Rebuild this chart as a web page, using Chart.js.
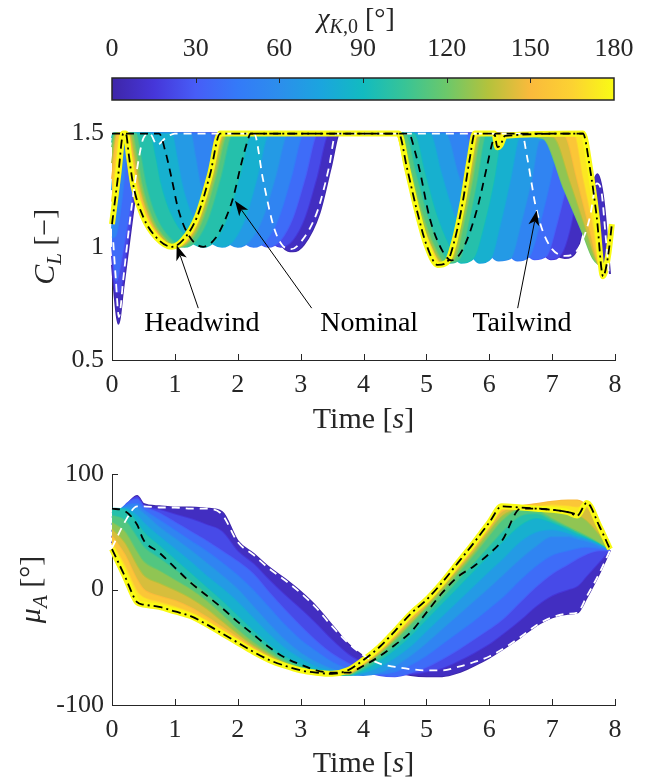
<!DOCTYPE html>
<html><head><meta charset="utf-8">
<script src="https://cdn.jsdelivr.net/npm/chart.js@4.4.1/dist/chart.umd.min.js"></script>
<style>
html,body{margin:0;padding:0;background:#fff;}
#wrap{position:relative;width:655px;height:782px;overflow:hidden;background:#fff;}
canvas{position:absolute;left:0;}
</style></head><body>
<div id="wrap">
<canvas id="cb" width="655" height="110" style="top:0;width:655px;height:110px"></canvas>
<canvas id="top" width="655" height="330" style="top:110px;width:655px;height:330px"></canvas>
<canvas id="bot" width="655" height="332" style="top:450px;width:655px;height:332px"></canvas>
</div>
<script>
// ---------------- data ----------------
const CHI_VALUES = [180, 165, 150, 135, 120, 105, 90, 75, 60, 45, 30, 15, 0];
const CB_TICKS = [0, 30, 60, 90, 120, 150, 180];
const TIME_TICKS = [0, 1, 2, 3, 4, 5, 6, 7, 8];
const CL_TICKS = [0.5, 1, 1.5];
const MU_TICKS = [-100, 0, 100];

// top plot: C_L vs time, [t, CL] pairs for each chi_K0
const CL_180 = [[0,1.10],[0.1,1.32],[0.18,1.5],[0.22,1.5],[0.27,1.40],[0.34,1.27],[0.5,1.13],[0.71,1.04],[0.95,1.0],[1.13,1.03],[1.35,1.13],[1.56,1.32],[1.72,1.5],[4.56,1.5],[4.69,1.35],[4.85,1.16],[5.0,1.01],[5.18,0.92],[5.32,0.93],[5.45,1.03],[5.58,1.2],[5.69,1.39],[5.77,1.5],[6.08,1.5],[6.13,1.44],[6.18,1.45],[6.25,1.49],[7.49,1.5],[7.6,1.35],[7.71,1.13],[7.81,0.87],[7.89,0.96],[7.95,1.1]];
const CL_165 = [[0,1.2],[0.14,1.5],[0.23,1.5],[0.304,1.40],[0.378,1.28],[0.526,1.14],[0.711,1.05],[0.97,1.0],[1.163,1.03],[1.355,1.13],[1.548,1.31],[1.74,1.5],[4.54,1.5],[4.708,1.32],[4.869,1.15],[5.051,1.01],[5.24,0.92],[5.389,0.95],[5.515,1.1],[5.653,1.3],[5.752,1.47],[5.79,1.5],[7.35,1.5],[7.5,1.3],[7.65,1.1],[7.78,0.9],[7.87,0.93],[7.94,1.05]];
const CL_150 = [[0,1.3],[0.1,1.5],[0.25,1.5],[0.325,1.40],[0.40,1.28],[0.55,1.14],[0.738,1.05],[1.0,1.0],[1.193,1.03],[1.385,1.13],[1.578,1.31],[1.77,1.5],[4.52,1.5],[4.69,1.32],[4.854,1.15],[5.038,1.01],[5.23,0.92],[5.387,0.95],[5.52,1.1],[5.665,1.3],[5.769,1.47],[5.81,1.5],[7.2,1.49],[7.4,1.3],[7.6,1.08],[7.75,0.92],[7.85,0.9],[7.93,1.0]];
const CL_135 = [[0,1.37],[0.07,1.5],[0.28,1.5],[0.355,1.40],[0.43,1.28],[0.58,1.14],[0.768,1.05],[1.03,1.0],[1.223,1.03],[1.415,1.13],[1.608,1.31],[1.80,1.5],[4.55,1.5],[4.72,1.32],[4.884,1.15],[5.068,1.01],[5.26,0.93],[5.417,0.95],[5.55,1.1],[5.695,1.3],[5.799,1.47],[5.84,1.5],[7.02,1.485],[7.3,1.28],[7.55,1.07],[7.72,0.93],[7.83,0.91],[7.92,0.97]];
const CL_120 = [[0,1.44],[0.05,1.5],[0.32,1.5],[0.395,1.40],[0.47,1.28],[0.62,1.14],[0.808,1.05],[1.07,1.0],[1.263,1.03],[1.455,1.13],[1.648,1.31],[1.84,1.5],[4.6,1.5],[4.768,1.32],[4.929,1.15],[5.111,1.01],[5.3,0.93],[5.457,0.95],[5.59,1.1],[5.735,1.3],[5.839,1.47],[5.88,1.5],[6.85,1.48],[7.2,1.25],[7.49,1.06],[7.65,0.95],[7.8,0.92],[7.9,0.95]];
const CL_105 = [[0,1.46],[0.03,1.5],[0.38,1.5],[0.457,1.40],[0.534,1.28],[0.688,1.14],[0.881,1.05],[1.15,1.0],[1.343,1.03],[1.535,1.13],[1.728,1.31],[1.92,1.5],[4.66,1.5],[4.833,1.32],[4.998,1.15],[5.186,1.01],[5.38,0.93],[5.534,0.95],[5.665,1.1],[5.808,1.3],[5.91,1.47],[5.95,1.5],[6.95,1.485],[7.3,1.3],[7.55,1.1],[7.7,0.95],[7.82,0.9],[7.9,0.95]];
const CL_90 = [[0,1.48],[0.02,1.5],[0.6,1.5],[0.685,1.40],[0.77,1.28],[0.94,1.14],[1.153,1.05],[1.45,1.0],[1.643,1.03],[1.835,1.13],[2.028,1.31],[2.22,1.5],[4.8,1.5],[4.98,1.32],[5.15,1.15],[5.35,1.01],[5.55,0.93],[5.75,0.95],[5.92,1.1],[6.08,1.3],[6.18,1.47],[6.22,1.5],[7.45,1.49],[7.6,1.25],[7.72,1.0],[7.82,0.88],[7.9,0.95]];
const CL_75 = [[0,1.25],[0.05,1.42],[0.09,1.5],[0.95,1.5],[1.03,1.40],[1.11,1.28],[1.27,1.14],[1.47,1.05],[1.75,1.0],[1.938,1.03],[2.125,1.13],[2.313,1.31],[2.5,1.5],[5.05,1.5],[5.242,1.32],[5.426,1.15],[5.634,1.01],[5.85,0.93],[6.026,0.95],[6.175,1.1],[6.338,1.3],[6.455,1.47],[6.5,1.5],[7.45,1.49],[7.6,1.25],[7.72,1.0],[7.82,0.88],[7.9,0.95]];
const CL_60 = [[0,1.08],[0.06,1.3],[0.12,1.5],[1.25,1.5],[1.325,1.40],[1.40,1.28],[1.55,1.14],[1.738,1.05],[2.0,1.0],[2.2,1.03],[2.4,1.13],[2.6,1.31],[2.8,1.5],[5.3,1.5],[5.504,1.32],[5.70,1.15],[5.92,1.01],[6.15,0.94],[6.339,0.95],[6.5,1.1],[6.675,1.3],[6.801,1.47],[7.45,1.48],[7.6,1.25],[7.72,1.0],[7.82,0.88],[7.9,0.95]];
const CL_45 = [[0,1.04],[0.06,1.05],[0.15,1.2],[0.28,1.5],[1.55,1.5],[1.62,1.40],[1.69,1.28],[1.83,1.14],[2.005,1.05],[2.25,1.0],[2.45,1.03],[2.65,1.13],[2.85,1.31],[3.05,1.5],[5.6,1.5],[5.804,1.32],[6.0,1.15],[6.22,1.01],[6.45,0.94],[6.639,0.96],[6.8,1.1],[6.975,1.3],[7.101,1.46],[7.15,1.47],[7.45,1.48],[7.6,1.25],[7.72,1.0],[7.82,0.88],[7.9,0.95]];
const CL_30 = [[0,1.0],[0.07,0.85],[0.15,0.95],[0.3,1.2],[0.45,1.5],[1.8,1.5],[1.868,1.40],[1.936,1.28],[2.072,1.14],[2.242,1.05],[2.48,1.0],[2.678,1.03],[2.875,1.13],[3.073,1.31],[3.27,1.5],[5.9,1.5],[6.097,1.32],[6.285,1.15],[6.499,1.01],[6.72,0.945],[6.909,0.96],[7.07,1.1],[7.245,1.3],[7.371,1.46],[7.42,1.47],[7.47,1.48],[7.6,1.25],[7.72,1.0],[7.82,0.88],[7.9,0.95]];
const CL_15 = [[0,0.96],[0.06,0.8],[0.12,0.8],[0.24,1.0],[0.36,1.25],[0.5,1.5],[2.05,1.5],[2.113,1.40],[2.176,1.28],[2.302,1.14],[2.46,1.05],[2.68,1.0],[2.873,1.03],[3.065,1.13],[3.258,1.31],[3.45,1.5],[6.15,1.5],[6.35,1.32],[6.54,1.15],[6.76,1.01],[6.98,0.945],[7.15,0.97],[7.3,1.1],[7.42,1.28],[7.52,1.4],[7.62,1.3],[7.72,1.05],[7.82,0.9],[7.9,0.92]];
const CL_0 = [[0,0.92],[0.05,0.76],[0.1,0.66],[0.18,0.82],[0.3,1.08],[0.42,1.32],[0.55,1.5],[2.28,1.5],[2.42,1.3],[2.58,1.1],[2.72,1.0],[2.88,0.98],[3.05,1.01],[3.3,1.15],[3.48,1.35],[3.62,1.5],[6.38,1.5],[6.55,1.3],[6.75,1.12],[6.95,1.0],[7.2,0.95],[7.4,0.99],[7.5,1.1],[7.62,1.25],[7.72,1.32],[7.82,1.2],[7.92,0.88]];
const CL_NOMINAL = [[0,1.5],[0.75,1.5],[0.85,1.42],[0.95,1.3],[1.05,1.17],[1.2,1.06],[1.45,1.0],[1.65,1.04],[1.8,1.12],[1.93,1.22],[2.05,1.36],[2.17,1.48],[2.2,1.5],[4.72,1.5],[4.82,1.42],[4.9,1.33],[5.05,1.13],[5.24,0.99],[5.4,0.94],[5.58,0.99],[5.8,1.16],[5.96,1.35],[6.04,1.45],[6.1,1.5],[7.5,1.5]];
const CL_TAILWIND = [[0.02,1.02],[0.06,0.86],[0.11,0.69],[0.18,0.86],[0.3,1.15],[0.42,1.38],[0.5,1.48],[0.6,1.5],[0.72,1.45],[0.85,1.48],[1.0,1.5],[2.26,1.5],[2.4,1.3],[2.57,1.09],[2.7,1.01],[2.85,0.99],[3.0,1.02],[3.27,1.16],[3.45,1.35],[3.56,1.5],[6.52,1.5],[6.6,1.4],[6.68,1.27],[6.73,1.19],[6.85,1.07],[7.0,0.99],[7.2,0.96],[7.35,0.97],[7.5,1.04],[7.6,1.13],[7.71,1.28],[7.78,1.25],[7.85,1.05],[7.9,0.89]];

// bottom plot: mu_A vs time on a common time grid
const B_TIME = [0,0.2,0.4,0.5,0.75,1.0,1.25,1.5,1.75,2.0,2.25,2.5,2.75,3.0,3.25,3.5,3.75,4.0,4.25,4.5,4.75,5.0,5.25,5.5,5.75,6.0,6.2,6.5,6.75,7.0,7.25,7.4,7.55,7.75,7.92];
const MU_180 = [35,12,-11,-13,-15,-19,-23,-30,-38,-46,-54,-61,-66,-70,-72,-73,-70,-61,-50,-36,-21,-9,6,23,40,58,72,71,70,69,67,64,75,55,35];
const MU_165 = [40,21,-2,-7,-11,-15,-20,-27,-36,-44,-53,-60,-66,-70,-72,-73,-71,-62,-51,-38,-23,-10,4,21,38,56,70,72,72,73,72,71,74,55,35];
const MU_150 = [46,30,8,0,-6,-10,-16,-24,-33,-42,-51,-59,-65,-69,-72,-73,-72,-64,-53,-40,-25,-12,3,19,36,54,68,72,74,76,77,77,72,55,36];
const MU_135 = [52,40,20,12,5,-1,-8,-17,-28,-39,-49,-57,-64,-69,-72,-73,-73,-65,-55,-42,-28,-14,1,17,33,51,64,71,72,70,67,65,60,48,35];
const MU_120 = [58,50,32,24,16,8,0,-10,-22,-35,-46,-55,-63,-68,-71,-73,-73,-66,-56,-44,-30,-16,-2,14,30,47,60,70,69,62,55,51,47,41,35];
const MU_105 = [64,60,45,37,27,17,7,-4,-16,-29,-41,-52,-61,-67,-71,-73,-74,-68,-59,-48,-35,-21,-7,8,23,38,50,64,66,60,54,50,46,41,35];
const MU_90 = [70,69,58,50,38,26,14,2,-10,-23,-36,-48,-58,-65,-70,-73,-74,-70,-62,-52,-40,-26,-12,2,16,30,41,56,62,58,52,48,45,40,35];
const MU_75 = [66,70,64,58,46,35,24,12,1,-11,-25,-39,-51,-60,-67,-71,-74,-72,-67,-59,-49,-36,-23,-10,3,16,26,42,50,52,49,46,44,39,35];
const MU_60 = [62,71,70,66,54,44,34,23,12,0,-15,-30,-44,-55,-63,-69,-73,-74,-72,-66,-57,-46,-34,-22,-10,2,12,27,38,46,46,44,42,38,35];
const MU_45 = [56,72,74,69,60,51,42,33,23,12,-1,-16,-31,-44,-54,-63,-69,-72,-73,-71,-65,-57,-47,-37,-27,-16,-7,9,21,30,34,36,37,36,35];
const MU_30 = [50,72,78,72,66,58,50,42,33,24,13,-3,-18,-32,-45,-56,-64,-70,-74,-75,-72,-67,-60,-52,-43,-34,-26,-10,3,14,22,27,31,34,34];
const MU_15 = [45,70,80,73,69,65,61,56,50,33,22,8,-5,-17,-30,-44,-56,-64,-70,-73,-73,-71,-68,-62,-55,-47,-39,-26,-14,-5,0,3,12,24,34];
const MU_0 = [40,68,81,74,72,71,71,70,67,42,31,19,9,-2,-15,-31,-47,-58,-66,-71,-74,-75,-75,-72,-66,-59,-52,-41,-31,-24,-21,-20,-7,14,34];
const MU_NOMINAL = [70,68,56,43,32,19,6,-5,-16,-28,-39,-50,-59,-65,-70,-72,-72,-66,-58,-48,-37,-20,-3,11,20,31,42,70,70,69,67,65];
const MU_TAILWIND = [36,58,72,72,71,71,70,70,65,41,30,18,8,-3,-16,-32,-46,-57,-64,-67,-69,-70,-70,-67,-63,-58,-52,-41,-31,-24,-21,-20,-6,14,34];

// annotation labels (data coordinates of the top plot)
const ANNOTATIONS = [
  {text:'Headwind', tx:1.43, ty:0.627, x0:1.372, y0:0.729, x1:1.029, y1:1.007},
  {text:'Nominal',  tx:4.09, ty:0.627, x0:3.176, y0:0.729, x1:1.956, y1:1.203},
  {text:'Tailwind', tx:6.52, ty:0.627, x0:6.452, y0:0.729, x1:6.755, y1:1.160}
];

// ---------------- styling helpers ----------------
const FONT = 'Liberation Serif';
const AX = '#262626';
const PARULA_STOPS = [[0,[62,38,168]],[15,[70,54,217]],[30,[71,93,247]],[45,[52,122,248]],[60,[44,142,236]],[75,[27,165,222]],[90,[18,187,192]],[105,[56,196,150]],[120,[108,200,106]],[135,[180,194,60]],[150,[250,186,60]],[165,[252,210,50]],[180,[249,251,20]]];
function parula(v){
  v = Math.max(0, Math.min(180, v));
  for (let i = 0; i < PARULA_STOPS.length - 1; i++) {
    const [a, ca] = PARULA_STOPS[i], [b, cb] = PARULA_STOPS[i+1];
    if (v <= b) {
      const f = (v - a) / (b - a);
      const c = ca.map((x, k) => Math.round(x + (cb[k] - x) * f));
      return `rgb(${c[0]},${c[1]},${c[2]})`;
    }
  }
  return 'rgb(249,251,20)';
}
Chart.defaults.font.family = FONT;

function drawRich(ctx, runs, x, y, size, rotate, color){
  ctx.save();
  const fontFor = st => (st.includes('i') ? 'italic ' : '') + (st[0] === 's' ? Math.round(size*0.7) : size) + 'px "' + FONT + '"';
  let total = 0;
  const widths = runs.map(r => { ctx.font = fontFor(r[1]); const w = ctx.measureText(r[0]).width; total += w; return w; });
  ctx.translate(x, y);
  if (rotate) ctx.rotate(-Math.PI/2);
  ctx.textAlign = 'left'; ctx.textBaseline = 'alphabetic'; ctx.fillStyle = color || AX;
  let cx = -total/2;
  runs.forEach((r, i) => { ctx.font = fontFor(r[1]); ctx.fillText(r[0], cx, r[1][0] === 's' ? size*0.22 : 0); cx += widths[i]; });
  ctx.restore();
}

const inTicks = {
  id: 'inTicks',
  beforeDatasetsDraw(chart){
    const {ctx, chartArea: a, scales} = chart;
    ctx.save(); ctx.strokeStyle = AX; ctx.lineWidth = 1;
    scales.x.ticks.forEach(t => { const px = Math.round(scales.x.getPixelForValue(t.value)) + 0.5; ctx.beginPath(); ctx.moveTo(px, a.bottom); ctx.lineTo(px, a.bottom - 6); ctx.stroke(); });
    scales.y.ticks.forEach(t => { const py = Math.round(scales.y.getPixelForValue(t.value)) + 0.5; ctx.beginPath(); ctx.moveTo(a.left, py); ctx.lineTo(a.left + 6, py); ctx.stroke(); });
    ctx.restore();
  }
};

function axisTitles(xRuns, yRuns, xBase, yBaseX){
  return {
    id: 'axisTitles',
    afterDraw(chart){
      const {ctx, chartArea: a} = chart;
      drawRich(ctx, xRuns, (a.left + a.right)/2, xBase, 30, false);
      drawRich(ctx, yRuns, yBaseX, (a.top + a.bottom)/2, 30, true);
    }
  };
}

function arrow(ctx, x0, y0, x1, y1){
  const ang = Math.atan2(y1 - y0, x1 - x0), L = 15, W = 5.5, N = 4;
  const cs = Math.cos(ang), sn = Math.sin(ang), px = -sn, py = cs;
  ctx.beginPath(); ctx.moveTo(x0, y0); ctx.lineTo(x1 - cs*(L-N), y1 - sn*(L-N));
  ctx.lineWidth = 1; ctx.strokeStyle = '#000'; ctx.stroke();
  const bx = x1 - cs*L, by = y1 - sn*L;
  ctx.beginPath(); ctx.moveTo(x1, y1); ctx.lineTo(bx + px*W, by + py*W);
  ctx.lineTo(x1 - cs*(L-N), y1 - sn*(L-N)); ctx.lineTo(bx - px*W, by - py*W); ctx.closePath();
  ctx.fillStyle = '#000'; ctx.fill();
}

const annotPlugin = {
  id: 'annot',
  afterDatasetsDraw(chart){
    const {ctx, scales: {x, y}} = chart;
    ctx.save();
    ANNOTATIONS.forEach(an => {
      arrow(ctx, x.getPixelForValue(an.x0), y.getPixelForValue(an.y0), x.getPixelForValue(an.x1), y.getPixelForValue(an.y1));
      ctx.font = '28px "' + FONT + '"'; ctx.fillStyle = '#000'; ctx.textAlign = 'center'; ctx.textBaseline = 'alphabetic';
      ctx.fillText(an.text, x.getPixelForValue(an.tx), y.getPixelForValue(an.ty));
    });
    ctx.restore();
  }
};

function baseOptions(pad){
  return {
    responsive: false, animation: false, devicePixelRatio: 1, events: [],
    layout: {padding: pad},
    plugins: {legend: {display: false}, tooltip: {enabled: false}},
    elements: {point: {radius: 0}}
  };
}
function lineDs(label, data, color, width, extra){
  return Object.assign({label, data, borderColor: color, borderWidth: width, pointRadius: 0, fill: false,
    cubicInterpolationMode: 'monotone', clip: {left: 4, top: 6, right: 4, bottom: 4}}, extra || {});
}
const fmt = v => String(v);
function xScale(afterH, pad){
  return {type: 'linear', min: 0, max: 8, afterBuildTicks: s => { s.ticks = TIME_TICKS.map(v => ({value: v})); },
    ticks: {font: {size: 26, family: FONT}, color: AX, padding: pad, autoSkip: false, maxRotation: 0, callback: fmt},
    grid: {display: false, drawTicks: false}, border: {display: true, color: AX, width: 1},
    afterFit: s => { s.height = afterH; }};
}
function yScale(min, max, ticks){
  return {type: 'linear', min, max, afterBuildTicks: s => { s.ticks = ticks.map(v => ({value: v})); },
    ticks: {font: {size: 26, family: FONT}, color: AX, padding: 8, autoSkip: false, callback: fmt},
    grid: {display: false, drawTicks: false}, border: {display: true, color: AX, width: 1},
    afterFit: s => { s.width = 112; }};
}
function family(sets, toData){
  const n = CHI_VALUES.length;
  return CHI_VALUES.map((c, i) => lineDs('chi ' + c, toData(sets[i]), parula(c), c === 180 ? 6 : 2,
    {fill: i < n - 1 ? 3 + i + 1 : false, backgroundColor: parula(c - 7.5)}));
}

// ---------------- colorbar ----------------
const cbPlugin = {
  id: 'cbar',
  beforeDatasetsDraw(chart){
    const {ctx, chartArea: a, scales: {x}} = chart;
    const g = ctx.createLinearGradient(a.left, 0, a.right, 0);
    PARULA_STOPS.forEach(s => g.addColorStop(s[0]/180, parula(s[0])));
    ctx.save();
    ctx.fillStyle = g; ctx.fillRect(a.left, a.top, a.right - a.left, a.bottom - a.top);
    ctx.strokeStyle = AX; ctx.lineWidth = 1;
    CB_TICKS.slice(1, -1).forEach(v => { const px = Math.round(x.getPixelForValue(v)) + 0.5; ctx.beginPath(); ctx.moveTo(px, a.top); ctx.lineTo(px, a.top + 5); ctx.stroke(); });
    ctx.lineWidth = 1.5; ctx.strokeRect(a.left, a.top, a.right - a.left, a.bottom - a.top);
    ctx.restore();
    drawRich(ctx, [['χ','i'],['K','si'],[',0','sn'],[' [°]','n']], 356, 27, 28, false);
  }
};
new Chart(document.getElementById('cb'), {
  type: 'scatter',
  data: {datasets: []},
  options: Object.assign(baseOptions({left: 112, right: 41, top: 0, bottom: 10}), {
    scales: {
      x: {type: 'linear', position: 'top', min: 0, max: 180,
        afterBuildTicks: s => { s.ticks = CB_TICKS.map(v => ({value: v})); },
        ticks: {font: {size: 26, family: FONT}, color: AX, padding: 13, autoSkip: false, maxRotation: 0, callback: fmt},
        grid: {display: false, drawTicks: false}, border: {display: false},
        afterFit: s => { s.height = 78; }},
      y: {display: false, min: 0, max: 1}
    }
  }),
  plugins: [cbPlugin]
});

// ---------------- top plot ----------------
const CL_SETS = [CL_180, CL_165, CL_150, CL_135, CL_120, CL_105, CL_90, CL_75, CL_60, CL_45, CL_30, CL_15, CL_0];
const pairs = arr => arr.map(p => ({x: p[0], y: p[1]}));
new Chart(document.getElementById('top'), {
  type: 'line',
  data: {datasets: [
    lineDs('Headwind', pairs(CL_180), '#000', 1.8, {borderDash: [9,4,2,4]}),
    lineDs('Nominal', pairs(CL_NOMINAL), '#000', 1.8, {borderDash: [8,6]}),
    lineDs('Tailwind', pairs(CL_TAILWIND), '#fff', 1.8, {borderDash: [8,6]}),
    ...family(CL_SETS, pairs)
  ]},
  options: Object.assign(baseOptions({left: 0, right: 40, top: 20, bottom: 0}), {
    scales: {x: xScale(80, 10), y: yScale(0.5, 1.5, CL_TICKS)}
  }),
  plugins: [inTicks, annotPlugin, axisTitles([['Time [','n'],['s','i'],[']','n']], [['C','i'],['L','si'],[' [−]','n']], 318, 54)]
});

// ---------------- bottom plot ----------------
const MU_SETS = [MU_180, MU_165, MU_150, MU_135, MU_120, MU_105, MU_90, MU_75, MU_60, MU_45, MU_30, MU_15, MU_0];
const onGrid = vals => vals.map((v, i) => ({x: B_TIME[i], y: v}));
new Chart(document.getElementById('bot'), {
  type: 'line',
  data: {datasets: [
    lineDs('Headwind', onGrid(MU_180), '#000', 1.8, {borderDash: [9,4,2,4]}),
    lineDs('Nominal', onGrid(MU_NOMINAL), '#000', 1.8, {borderDash: [8,6]}),
    lineDs('Tailwind', onGrid(MU_TAILWIND), '#fff', 1.8, {borderDash: [8,6]}),
    ...family(MU_SETS, onGrid)
  ]},
  options: Object.assign(baseOptions({left: 0, right: 40, top: 24, bottom: 0}), {
    scales: {x: xScale(77, 10), y: yScale(-100, 100, MU_TICKS)}
  }),
  plugins: [inTicks, axisTitles([['Time [','n'],['s','i'],[']','n']], [['μ','i'],['A','si'],[' [°]','n']], 322, 40)]
});
</script>
</body></html>
